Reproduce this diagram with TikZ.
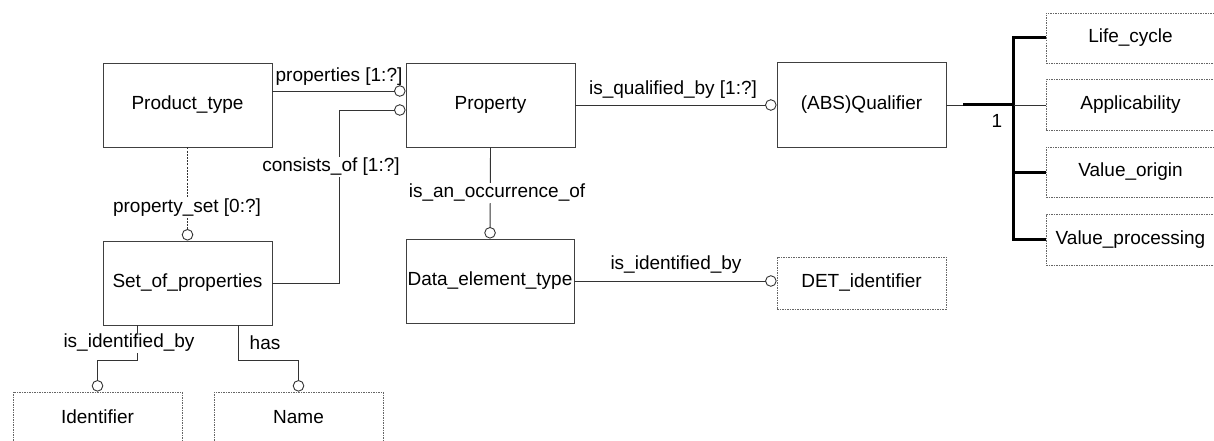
\documentclass[tikz,border=0pt]{standalone}
\usepackage{fontspec}
\setmainfont{Liberation Sans}
\usetikzlibrary{arrows.meta,calc}
\begin{document}
\begin{tikzpicture}[x=1pt,y=-1pt,
  every node/.style={font=\fontsize{19}{22}\selectfont, text=black},
  entity/.style={draw=black!75, line width=0.9pt, rectangle, inner sep=0pt, minimum width=169pt, minimum height=84pt},
  ext/.style={draw=black!60, line width=0.8pt, dash pattern=on 1.5pt off 1pt, rectangle, inner sep=0pt, minimum width=169pt, minimum height=51pt},
  rel/.style={draw=black!80, line width=0.9pt, -{Circle[open,length=11.5pt,width=11.5pt,line width=0.9pt]}},
  plain/.style={draw=black!80, line width=0.9pt},
  thickbus/.style={draw=black, line width=3pt},
  lbl/.style={inner sep=1pt},
  lblw/.style={inner sep=1pt, fill=white}]
\useasboundingbox (0,0) rectangle (1214,441);

% entities
\node[entity] (PT) at (187.5,105) {Product\_type};
\node[entity] (P) at (490.5,105) {Property};
\node[entity, minimum height=85pt] (Q) at (861.5,105) {(ABS)Qualifier};
\node[entity] (SP) at (187.5,283) {Set\_of\_properties};
\node[entity, minimum width=168pt] (D) at (490,281) {Data\_element\_type};

% external entities
\node[ext, minimum height=52pt] (DET) at (861.5,283) {DET\_identifier};
\node[ext, minimum height=50pt] (LC) at (1130.5,38) {Life\_cycle};
\node[ext] (AP) at (1130.5,105) {Applicability};
\node[ext, minimum height=50pt] (VO) at (1130.5,172) {Value\_origin};
\node[ext] (VP) at (1130.5,239.5) {Value\_processing};
\node[ext, minimum height=50pt] (ID) at (97.5,417) {Identifier};
\node[ext, minimum height=50pt] (N) at (298.5,417) {Name};

% relations
\draw[rel] ([yshift=14pt]PT.east) -- ([yshift=14pt]P.west);
\node[lbl] (Lprop) at (339,77) {properties [1:?]};

\draw[rel] (SP.east) -- ++(67,0) |- ([yshift=-5pt]P.west);
\node[lblw] (Lcons) at (331,167) {consists\_of [1:?]};

\draw[rel, dash pattern=on 2pt off 1.2pt] (PT.south) -- (SP.north);
\node[lblw] (Lpset) at (187,208) {property\_set [0:?]};

\draw[rel] (P.east) -- (P.east -| Q.west);
\node[lbl] (Lqual) at (673,90) {is\_qualified\_by [1:?]};

\draw[rel] (P.south) -- (D.north);
\node[lblw] (Locc) at (497,193) {is\_an\_occurrence\_of};

\draw[rel] (D.east) -- (D.east -| DET.west);
\node[lbl] (Ldet) at (676,265) {is\_identified\_by};

\draw[rel] ([xshift=-50.5pt]SP.south) -- ++(0,35) -| (ID.north);
\node[lblw] (Lid) at (129,343) {is\_identified\_by};

\draw[rel] ([xshift=50.5pt]SP.south) -- ++(0,35) -| (N.north);
\node[lbl] (Lhas) at (265,343) {has};

% qualifier bus
\coordinate (bus) at (1013.5,105);
\coordinate (qk) at (963,105);
\draw[plain] (Q.east) -- (qk);
\draw[thickbus] (qk) -- (bus);
\draw[thickbus] ([yshift=1.5pt]bus |- LC.west) -- ([yshift=-1.5pt]bus |- VP.west);
\draw[thickbus] (bus |- LC.west) -- (LC.west);
\draw[plain] (bus) -- (AP.west);
\draw[thickbus] (bus |- VO.west) -- (VO.west);
\draw[thickbus] (bus |- VP.west) -- (VP.west);
\node[lbl] (L1) at (997,121) {1};
\end{tikzpicture}
\end{document}
